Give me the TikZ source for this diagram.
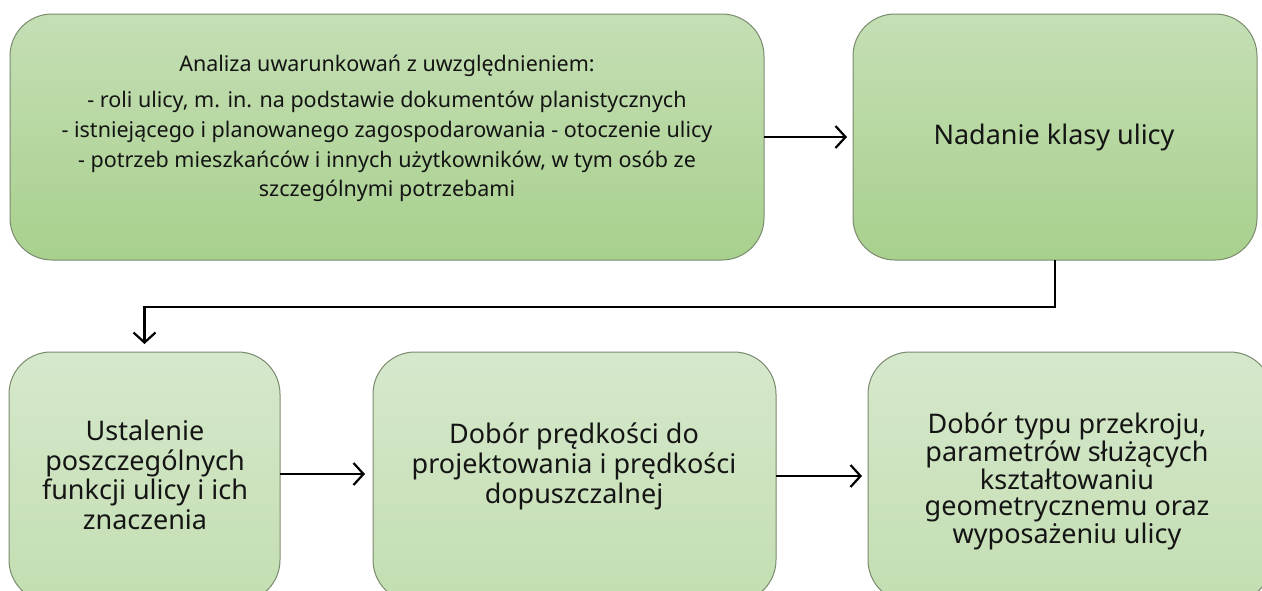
\documentclass[tikz,border=0pt]{standalone}
\usepackage{fontspec}
\setmainfont{Noto Sans}
\usetikzlibrary{arrows.meta}
\definecolor{boxline}{HTML}{7A8B6E}
\definecolor{darktop}{HTML}{C5DFB5}
\definecolor{darkbot}{HTML}{A8D08D}
\definecolor{lighttop}{HTML}{D6E8CC}
\definecolor{lightbot}{HTML}{C3DEB1}
\tikzset{
  stage/.style={draw=boxline, line width=1pt, rounded corners=42pt,
    inner sep=0pt, outer sep=0pt, shading=axis},
  upper/.style={stage, top color=darktop, bottom color=darkbot},
  lower/.style={stage, top color=lighttop, bottom color=lightbot},
  txt/.style={align=center, inner sep=0pt, text=black!92},
  flow/.style={line width=2.2pt, -{Straight Barb[length=10pt,width=22pt,line width=2.2pt]}}
}
\begin{document}
\begin{tikzpicture}[x=1pt,y=-1pt]
\useasboundingbox (0,0) rectangle (1262,590);
\clip (0,0) rectangle (1262,590);
\fill[white] (0,0) rectangle (1262,590);

% process stages
\node[upper, minimum width=754pt, minimum height=246pt] (analiza) at (387,137) {};
\node[upper, minimum width=404pt, minimum height=246pt] (klasa) at (1055,137) {};
\node[lower, minimum width=271pt, minimum height=250pt] (funkcje) at (144.5,477) {};
\node[lower, minimum width=403pt, minimum height=250pt] (predkosc) at (574.5,477) {};
\node[lower, minimum width=404pt, minimum height=250pt] (przekroj) at (1070,477) {};

% stage texts
\node[txt, font=\fontsize{21.5}{30}\selectfont] (t1) at (387,128)
  {Analiza uwarunkowań z uwzględnieniem:\\[6pt]
   - roli ulicy, m. in. na podstawie dokumentów planistycznych\\
   - istniejącego i planowanego zagospodarowania - otoczenie ulicy\\
   - potrzeb mieszkańców i innych użytkowników, w tym osób ze\\[-1pt]
   szczególnymi potrzebami};
\node[txt, font=\fontsize{27}{29}\selectfont] (t2) at (1054,137) {Nadanie klasy ulicy};
\node[txt, font=\fontsize{27}{29.5}\selectfont] (t3) at (145,475)
  {Ustalenie\\ poszczególnych\\ funkcji ulicy i ich\\ znaczenia};
\node[txt, font=\fontsize{27}{30}\selectfont] (t4) at (574,466)
  {Dobór prędkości do\\ projektowania i prędkości\\ dopuszczalnej};
\node[txt, font=\fontsize{27}{26}\selectfont] (t5) at (1067,481)
  {Dobór typu przekroju,\\ parametrów służących\\ kształtowaniu\\ geometrycznemu oraz\\ wyposażeniu ulicy};

% connectors
\draw[flow, shorten >=6pt] (analiza.east) -- (klasa.west);
\draw[flow, shorten >=8pt] (klasa.south) -- ++(0,47) -| (funkcje.north);
\draw[flow, shorten >=8pt] (funkcje.east |- 0,474) -- (predkosc.west |- 0,474);
\draw[flow, shorten >=6pt] (predkosc.east |- 0,476) -- (przekroj.west |- 0,476);
\end{tikzpicture}
\end{document}
